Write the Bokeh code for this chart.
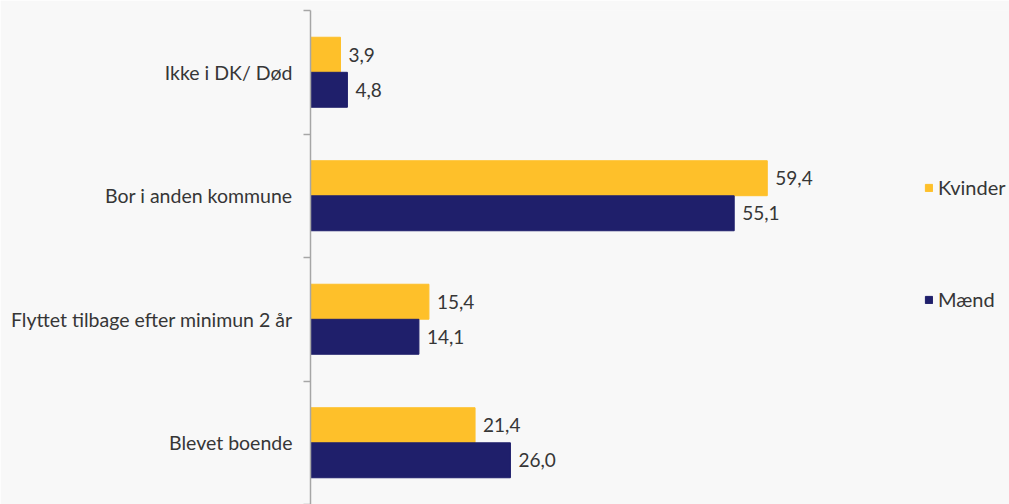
from bokeh.plotting import figure
from bokeh.models import Range1d, LinearAxis, FixedTicker, ColumnDataSource, Grid
from bokeh.transform import dodge
from bokeh.core.properties import value
from bokeh.embed import file_html
from bokeh.resources import INLINE

categories = ["Ikke i DK/ Død", "Bor i anden kommune", "Flyttet tilbage efter minimun 2 år", "Blevet boende"]
kvinder = [3.9, 59.4, 15.4, 21.4]
maend = [4.8, 55.1, 14.1, 26.0]
series_names = ["Kvinder", "Mænd"]

BG = "#F8F8F8"
YEL = "#FEC02A"
NAVY = "#1F1F6B"
TXT = "#363636"
AX = "#A6A6A6"
FONT = "Lato"
FS_CAT = "19.5px"
FS_VAL = "19px"
FS_LEG = "20px"

n = len(categories)
centers = [n - i - 0.5 for i in range(n)]
boundaries = list(range(n + 1))


def fmt(v):
    return f"{v:.1f}".replace(".", ",")


src = ColumnDataSource(dict(
    pos=centers,
    k=kvinder,
    m=maend,
    kl=[fmt(v) for v in kvinder],
    ml=[fmt(v) for v in maend],
))

p = figure(width=1009, height=504, y_range=Range1d(0, n), x_range=Range1d(0, 90.9),
           output_backend="svg", toolbar_location=None,
           x_axis_location=None, y_axis_location=None,
           min_border_left=310, min_border_right=0, min_border_top=10, min_border_bottom=0,
           background_fill_color=BG, border_fill_color=BG, outline_line_color=None)

for r in list(p.center):
    if isinstance(r, Grid):
        r.visible = False

cat_axis = LinearAxis(ticker=FixedTicker(ticks=centers, minor_ticks=boundaries),
                      major_label_overrides={c: name for c, name in zip(centers, categories)},
                      major_tick_line_color=None, major_tick_out=0, major_tick_in=0,
                      minor_tick_out=7, minor_tick_in=0,
                      minor_tick_line_color=AX, minor_tick_line_width=1.5,
                      axis_line_color=AX, axis_line_width=1.5,
                      major_label_text_font=FONT, major_label_text_font_size=FS_CAT,
                      major_label_text_color=TXT, major_label_standoff=11)
p.add_layout(cat_axis, "left")

bh = 0.283
off = 0.142
p.hbar(y=dodge("pos", off), left=0, right="k", height=bh, source=src,
       fill_color=YEL, line_color=YEL, legend_label=series_names[0])
p.hbar(y=dodge("pos", -off), left=0, right="m", height=bh, source=src,
       fill_color=NAVY, line_color=NAVY, legend_label=series_names[1])

p.text(x="k", y=dodge("pos", off), text="kl", source=src, x_offset=8,
       text_align="left", text_baseline="middle", text_font=value(FONT),
       text_font_size=FS_VAL, text_color=TXT)
p.text(x="m", y=dodge("pos", -off), text="ml", source=src, x_offset=8,
       text_align="left", text_baseline="middle", text_font=value(FONT),
       text_font_size=FS_VAL, text_color=TXT)

lg = p.legend[0]
lg.location = (614, 193)
lg.background_fill_alpha = 0
lg.border_line_color = None
lg.glyph_width = 9
lg.glyph_height = 9
lg.label_standoff = 5
lg.spacing = 88
lg.padding = 10
lg.label_text_font = FONT
lg.label_text_font_size = FS_LEG
lg.label_text_color = TXT

open("out.html", "w").write(file_html(p, INLINE))
